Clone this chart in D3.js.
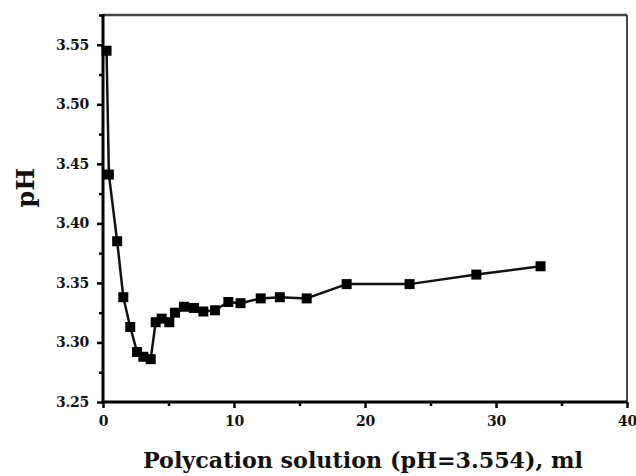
<!DOCTYPE html>
<html>
<head>
<meta charset="utf-8">
<script src="https://cdn.jsdelivr.net/npm/d3@7"></script>
<style>
  body { margin: 0; background: #fff; }
</style>
</head>
<body>
<div id="chart"></div>
<script>
// data
var volume = [0.27, 0.45, 1.08, 1.55, 2.08, 2.6, 3.08, 3.64, 4.02, 4.48, 5.06, 5.5, 6.18,
              6.95, 7.66, 8.55, 9.57, 10.5, 12.04, 13.5, 15.55, 18.6, 23.4, 28.5, 33.4];
var phValues = [3.545, 3.441, 3.385, 3.338, 3.313, 3.292, 3.288, 3.286, 3.317, 3.320, 3.317, 3.325, 3.330,
                3.329, 3.326, 3.327, 3.334, 3.333, 3.337, 3.338, 3.337, 3.349, 3.349, 3.357, 3.364];
var xTicks = [0, 10, 20, 30, 40];
var yTicks = [3.25, 3.30, 3.35, 3.40, 3.45, 3.50, 3.55];

var data = volume.map(function (v, i) { return {x: v, y: phValues[i]}; });

var margin = {top: 15, right: 9, bottom: 74, left: 103},
    width = 636 - margin.left - margin.right,
    height = 476 - margin.top - margin.bottom;

var svg = d3.select("#chart").append("svg")
    .attr("width", width + margin.left + margin.right)
    .attr("height", height + margin.top + margin.bottom)
    .append("g")
    .attr("transform", "translate(" + margin.left + "," + margin.top + ")");

var x = d3.scaleLinear().domain([0, 40]).range([0, width]);
var y = d3.scaleLinear().domain([3.25, 3.575]).range([height, 0]);

var tickFont = "'DejaVu Serif', serif";

// minor ticks
svg.append("g")
    .attr("transform", "translate(0," + height + ")")
    .call(d3.axisBottom(x).tickValues(d3.range(5, 40, 10)).tickSize(4).tickFormat(""))
    .call(function (g) { g.select(".domain").remove(); g.selectAll("line").attr("stroke-width", 2.5); });
svg.append("g")
    .call(d3.axisLeft(y).tickValues(d3.range(3.275, 3.575, 0.05)).tickSize(4).tickFormat(""))
    .call(function (g) { g.select(".domain").remove(); g.selectAll("line").attr("stroke-width", 2.5); });

// major ticks
var xAxis = svg.append("g")
    .attr("transform", "translate(0," + height + ")")
    .call(d3.axisBottom(x).tickValues(xTicks).tickSize(6).tickPadding(8).tickFormat(d3.format("d")));
var yAxis = svg.append("g")
    .call(d3.axisLeft(y).tickValues(yTicks).tickSize(6).tickPadding(8).tickFormat(d3.format(".2f")));

[xAxis, yAxis].forEach(function (g) {
  g.select(".domain").remove();
  g.selectAll("line").attr("stroke", "#000").attr("stroke-width", 2.5);
  g.selectAll("text")
      .style("font-family", tickFont)
      .style("font-weight", "bold")
      .style("font-size", "14px")
      .style("letter-spacing", "-0.3px")
      .attr("fill", "#111");
});

// frame
svg.append("line").attr("x1", 0).attr("x2", width).attr("y1", 0).attr("y2", 0)
    .attr("stroke", "#444").attr("stroke-width", 2.5);
svg.append("line").attr("x1", width).attr("x2", width).attr("y1", 0).attr("y2", height)
    .attr("stroke", "#111").attr("stroke-width", 1.5);
svg.append("line").attr("x1", 0).attr("x2", 0).attr("y1", -1).attr("y2", height + 1.5)
    .attr("stroke", "#000").attr("stroke-width", 3);
svg.append("line").attr("x1", -1.5).attr("x2", width).attr("y1", height).attr("y2", height)
    .attr("stroke", "#000").attr("stroke-width", 3);

// curve
var line = d3.line()
    .x(function (d) { return x(d.x); })
    .y(function (d) { return y(d.y); });

svg.append("path")
    .datum(data)
    .attr("fill", "none")
    .attr("stroke", "#111")
    .attr("stroke-width", 2.5)
    .attr("stroke-linejoin", "round")
    .attr("d", line);

// square markers
var s = 10;
svg.selectAll(".pt")
    .data(data)
    .enter()
    .append("rect")
    .attr("class", "pt")
    .attr("x", function (d) { return x(d.x) - s / 2; })
    .attr("y", function (d) { return y(d.y) - s / 2; })
    .attr("width", s)
    .attr("height", s)
    .attr("fill", "#000");

// axis titles
svg.append("text")
    .attr("x", width / 2 - 2)
    .attr("y", height + 66)
    .attr("text-anchor", "middle")
    .attr("textLength", 440)
    .attr("lengthAdjust", "spacingAndGlyphs")
    .style("font-family", tickFont)
    .style("font-weight", "bold")
    .style("font-size", "23px")
    .attr("fill", "#111")
    .text("Polycation solution (pH=3.554), ml");

svg.append("text")
    .attr("transform", "translate(" + (-margin.left + 34) + "," + y(3.43) + ") rotate(-90)")
    .attr("text-anchor", "middle")
    .style("font-family", tickFont)
    .style("font-weight", "bold")
    .style("font-size", "24px")
    .attr("fill", "#111")
    .text("pH");
</script>
</body>
</html>
